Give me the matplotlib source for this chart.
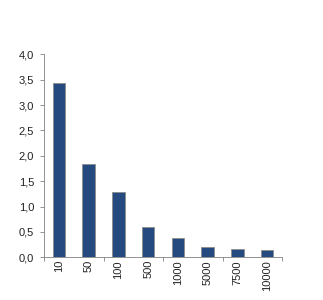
import matplotlib
matplotlib.use("Agg")
import matplotlib.pyplot as plt
import numpy as np

categories = ["10", "50", "100", "500", "1000", "5000", "7500", "10000"]
values = [3.43, 1.84, 1.29, 0.59, 0.39, 0.20, 0.17, 0.14]
yticks = [0.0, 0.5, 1.0, 1.5, 2.0, 2.5, 3.0, 3.5, 4.0]

plt.rcParams['font.family'] = ['Liberation Sans', 'DejaVu Sans']

fig = plt.figure(figsize=(3.23, 3.0), dpi=100)
ax = fig.add_axes([44/323, 1-257.3/300, (282-44)/323, (257.3-54.3)/300])

x = np.arange(len(categories))
ax.bar(x, values, width=0.42, color="#254A80", edgecolor="#8c8c8c", linewidth=0.6, zorder=3)

ax.set_xlim(-0.5, len(categories)-0.5)
ax.set_ylim(0, 4.0)
ax.set_yticks(yticks)
ax.set_yticklabels([f"{v:.1f}".replace(".", ",") for v in yticks], fontsize=8, color="#222222")
ax.set_xticks(x)
ax.set_xticklabels(categories, rotation=90, fontsize=8, color="#222222")
ax.tick_params(axis='x', which='major', length=0, pad=2)
ax.set_xticks(np.arange(-0.5, len(categories), 2), minor=True)
ax.tick_params(axis='x', which='minor', length=3, color="#808080", width=0.6)
ax.tick_params(axis='y', length=3, color="#808080", width=0.6, pad=4)

for s in ["top", "right"]:
    ax.spines[s].set_visible(False)
for s in ["left", "bottom"]:
    ax.spines[s].set_color("#808080")
    ax.spines[s].set_linewidth(0.6)

fig.savefig("out.png", dpi=100)
